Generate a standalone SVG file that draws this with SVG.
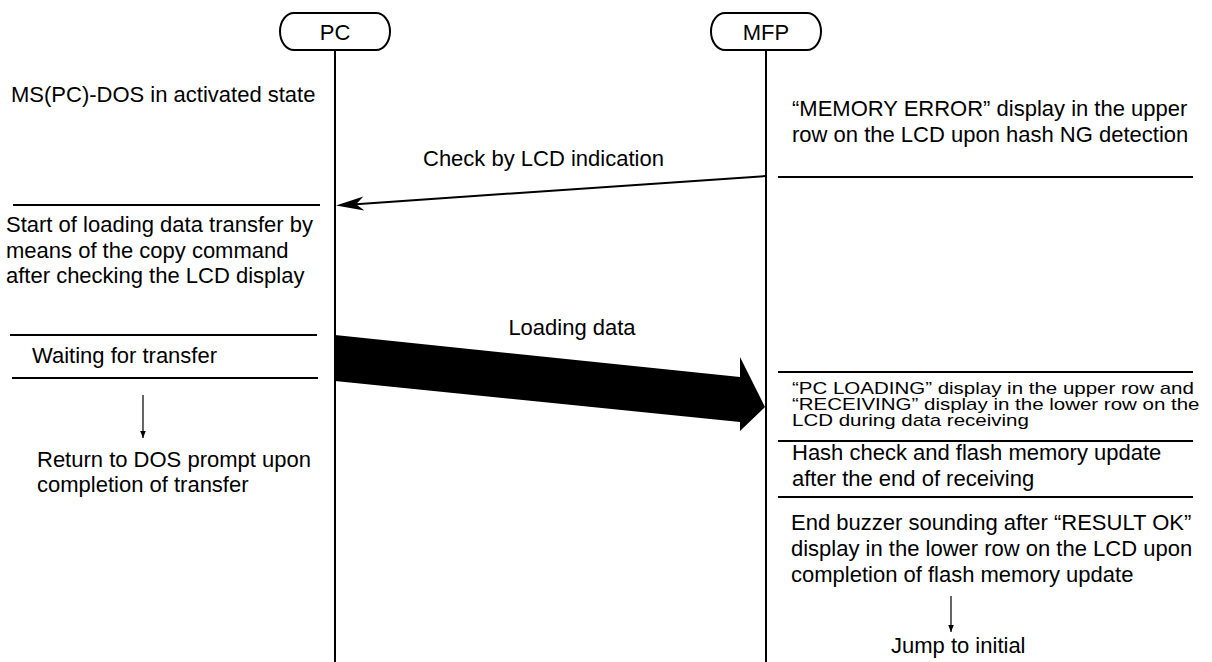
<svg xmlns="http://www.w3.org/2000/svg" width="1212" height="662" viewBox="0 0 1212 662">
<style>
text{font-family:"Liberation Sans",Arial,sans-serif;font-size:22px;fill:#000}
.c{text-anchor:middle}
.ln{stroke:#000;stroke-width:2;fill:none}
.thin{stroke:#000;stroke-width:1.2;fill:none}
.box{fill:#fff;stroke:#000;stroke-width:2}
.sm{font-size:20.5px}
</style>
<defs>
<marker id="dh" viewBox="0 0 10 10" refX="10" refY="5" markerWidth="7" markerHeight="10" markerUnits="userSpaceOnUse" orient="auto">
<path d="M0,1 L10,5 L0,9 Z" fill="#000"/>
</marker>
</defs>
<g id="connectors">
<line class="ln" x1="335" y1="50" x2="335" y2="662"/>
<line class="ln" x1="766" y1="50" x2="766" y2="662"/>
<line class="ln" x1="766" y1="176" x2="356" y2="204.2"/>
<polygon points="336,205.5 364.4,210.6 356,204.2 363.4,196.6" fill="#000"/>
<polygon points="335,335 740,377 740,357 765,407 740,431 740,422 335,381" fill="#000"/>
<line class="thin" x1="143" y1="395" x2="143" y2="438" marker-end="url(#dh)"/>
<line class="thin" x1="951" y1="596" x2="951" y2="632" marker-end="url(#dh)"/>
</g>
<g id="pc">
<rect class="box" x="280" y="13" width="110" height="37" rx="14" ry="18.5"/>
<text class="c" x="335" y="40">PC</text>
</g>
<g id="mfp">
<rect class="box" x="711" y="13" width="110" height="37" rx="14" ry="18.5"/>
<text class="c" x="766" y="40">MFP</text>
</g>
<g id="pc-state">
<text x="11" y="102">MS(PC)-DOS in activated state</text>
<line class="ln" x1="13" y1="205" x2="320" y2="205"/>
</g>
<g id="check-label">
<text x="423" y="166">Check by LCD indication</text>
</g>
<g id="mfp-error">
<text x="792" y="116">“MEMORY ERROR” display in the upper</text>
<text x="792" y="142">row on the LCD upon hash NG detection</text>
<line class="ln" x1="778" y1="177" x2="1193" y2="177"/>
</g>
<g id="pc-start">
<text x="6" y="232">Start of loading data transfer by</text>
<text x="6" y="258">means of the copy command</text>
<text x="6" y="283">after checking the LCD display</text>
</g>
<g id="loading-label">
<text class="c" x="572" y="335">Loading data</text>
</g>
<g id="pc-wait">
<line class="ln" x1="10" y1="335" x2="317" y2="335"/>
<text x="32" y="363">Waiting for transfer</text>
<line class="ln" x1="12" y1="378" x2="318" y2="378"/>
</g>
<g id="pc-return">
<text x="37" y="467">Return to DOS prompt upon</text>
<text x="37" y="492">completion of transfer</text>
</g>
<g id="mfp-receiving">
<line class="ln" x1="778" y1="372" x2="1193" y2="372"/>
<g transform="translate(792 0) scale(1 0.8)">
<text class="sm" x="0" y="492.9">“PC LOADING” display in the upper row and</text>
<text class="sm" x="0" y="512.5">“RECEIVING” display in the lower row on the</text>
<text class="sm" x="0" y="532.1">LCD during data receiving</text>
</g>
<line class="ln" x1="778" y1="441" x2="1193" y2="441"/>
</g>
<g id="mfp-hash">
<text x="792" y="460">Hash check and flash memory update</text>
<text x="792" y="486">after the end of receiving</text>
<line class="ln" x1="778" y1="497" x2="1193" y2="497"/>
</g>
<g id="mfp-end">
<text x="791" y="530">End buzzer sounding after “RESULT OK”</text>
<text x="791" y="556">display in the lower row on the LCD upon</text>
<text x="791" y="582">completion of flash memory update</text>
</g>
<g id="mfp-jump">
<text x="891" y="653">Jump to initial</text>
</g>
</svg>
